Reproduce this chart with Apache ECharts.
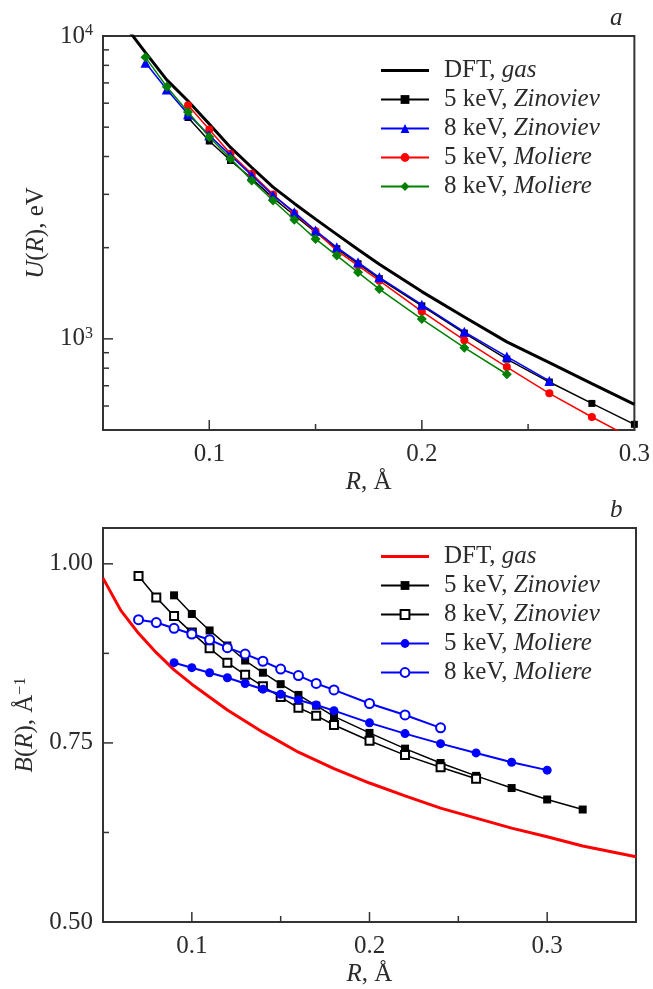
<!DOCTYPE html>
<html>
<head>
<meta charset="utf-8">
<script src="https://cdn.jsdelivr.net/npm/echarts@6/dist/echarts.min.js"></script>
<style>
html, body { margin: 0; padding: 0; background: #fff; }
#chart { width: 653px; height: 989px; background: #fff; }
</style>
</head>
<body>
<div id="chart"></div>
<script>
// ---- Panel a: interatomic potential U(R), eV ----
const R_U_DFT = [0.06, 0.07, 0.08, 0.09, 0.10, 0.11, 0.12, 0.13, 0.14, 0.15, 0.16, 0.17, 0.18, 0.20, 0.22, 0.24, 0.26, 0.28, 0.30];
const U_DFT   = [10900, 8810, 7160, 6100, 5120, 4285, 3680, 3170, 2800, 2485, 2213, 1972, 1762, 1432, 1180, 977, 834, 711, 608];

const R_U_Z5 = [0.09, 0.10, 0.11, 0.12, 0.13, 0.14, 0.15, 0.16, 0.17, 0.18, 0.20, 0.22, 0.24, 0.26, 0.28, 0.30];
const U_Z5   = [5380, 4500, 3880, 3380, 2920, 2560, 2250, 1985, 1770, 1580, 1285, 1045, 857, 720, 612, 522];

const R_U_Z8 = [0.07, 0.08, 0.09, 0.10, 0.11, 0.12, 0.13, 0.14, 0.15, 0.16, 0.17, 0.18, 0.20, 0.22, 0.24, 0.26];
const U_Z8   = [8160, 6660, 5520, 4700, 4036, 3465, 2975, 2620, 2278, 2006, 1789, 1596, 1296, 1055, 874, 726];

const R_U_M5 = [0.09, 0.10, 0.11, 0.12, 0.13, 0.14, 0.15, 0.16, 0.17, 0.18, 0.20, 0.22, 0.24, 0.26, 0.28, 0.30];
const U_M5   = [5910, 4910, 4088, 3510, 2999, 2600, 2265, 1956, 1745, 1556, 1232, 990, 807, 661, 552, 465];

const R_U_M8 = [0.07, 0.08, 0.09, 0.10, 0.11, 0.12, 0.13, 0.14, 0.15, 0.16, 0.17, 0.18, 0.20, 0.22, 0.24];
const U_M8   = [8500, 6800, 5610, 4642, 3936, 3336, 2864, 2473, 2138, 1883, 1658, 1460, 1162, 935, 764];

// ---- Panel b: screening parameter B(R), 1/Å ----
const R_B_DFT = [0.05, 0.06, 0.07, 0.08, 0.09, 0.10, 0.12, 0.14, 0.16, 0.18, 0.20, 0.22, 0.24, 0.26, 0.28, 0.30, 0.32, 0.35];
const B_DFT   = [0.980, 0.935, 0.903, 0.876, 0.852, 0.832, 0.796, 0.765, 0.737, 0.714, 0.694, 0.676, 0.659, 0.645, 0.631, 0.619, 0.606, 0.591];

const R_B_Z5 = [0.09, 0.10, 0.11, 0.12, 0.13, 0.14, 0.15, 0.16, 0.17, 0.18, 0.20, 0.22, 0.24, 0.26, 0.28, 0.30, 0.32];
const B_Z5   = [0.956, 0.930, 0.907, 0.886, 0.865, 0.848, 0.832, 0.817, 0.802, 0.787, 0.764, 0.742, 0.722, 0.704, 0.687, 0.671, 0.657];

const R_B_Z8 = [0.07, 0.08, 0.09, 0.10, 0.11, 0.12, 0.13, 0.14, 0.15, 0.16, 0.17, 0.18, 0.20, 0.22, 0.24, 0.26];
const B_Z8   = [0.983, 0.953, 0.927, 0.904, 0.882, 0.862, 0.845, 0.829, 0.814, 0.799, 0.788, 0.775, 0.753, 0.733, 0.716, 0.700];

const R_B_M5 = [0.09, 0.10, 0.11, 0.12, 0.13, 0.14, 0.15, 0.16, 0.17, 0.18, 0.20, 0.22, 0.24, 0.26, 0.28, 0.30];
const B_M5   = [0.862, 0.855, 0.848, 0.841, 0.833, 0.825, 0.818, 0.810, 0.803, 0.795, 0.778, 0.763, 0.749, 0.736, 0.723, 0.712];

const R_B_M8 = [0.07, 0.08, 0.09, 0.10, 0.11, 0.12, 0.13, 0.14, 0.15, 0.16, 0.17, 0.18, 0.20, 0.22, 0.24];
const B_M8   = [0.922, 0.918, 0.910, 0.902, 0.894, 0.883, 0.874, 0.864, 0.853, 0.844, 0.833, 0.824, 0.805, 0.789, 0.771];

// ---- Axis ticks and labels ----
const X_MAJOR = [0.1, 0.2, 0.3];
const X_MINOR = [0.15, 0.25];
const U_MAJOR = [1000, 10000];
const U_MINOR = [600, 700, 800, 900, 2000, 3000, 4000, 5000, 6000, 7000, 8000, 9000];
const B_MAJOR = [0.50, 0.75, 1.00];
const B_MINOR = [0.625, 0.875];

// Legend entries: series key -> [plain part, italic part]
const LEGEND_TEXT = {
  'U DFT': ['DFT, ', 'gas'],
  'U Z5': ['5 keV, ', 'Zinoviev'],
  'U Z8': ['8 keV, ', 'Zinoviev'],
  'U M5': ['5 keV, ', 'Moliere'],
  'U M8': ['8 keV, ', 'Moliere'],
  'B DFT': ['DFT, ', 'gas'],
  'B Z5': ['5 keV, ', 'Zinoviev'],
  'B Z8': ['8 keV, ', 'Zinoviev'],
  'B M5': ['5 keV, ', 'Moliere'],
  'B M8': ['8 keV, ', 'Moliere']
};

const SERIF = '"Liberation Serif", "Times New Roman", serif';
const INK = '#2b2b2b';
const AXIS = '#333';
const FS = 25;
const MAJOR_LEN = 10;
const MINOR_LEN = 6;

const pts = (xs, ys) => xs.map((x, i) => [x, ys[i]]);

const richText = {
  n: { fontFamily: SERIF, fontSize: FS, color: INK },
  i: { fontFamily: SERIF, fontSize: FS, color: INK, fontStyle: 'italic' },
  s: { fontFamily: SERIF, fontSize: 16, color: INK, verticalAlign: 'top', padding: [0, 0, 10, 0] }
};

// Inward tick marks, positioned through the axis scales
function tickSeries(xIdx, yIdx, dir, len, data) {
  return {
    type: 'custom', xAxisIndex: xIdx, yAxisIndex: yIdx, silent: true, z: 10,
    data: data,
    renderItem: (params, api) => {
      const cs = params.coordSys;
      const p = api.coord([api.value(0), api.value(1)]);
      let shape;
      if (dir === 'x') {
        const b = cs.y + cs.height;
        shape = { x1: p[0], y1: b, x2: p[0], y2: b - len };
      } else {
        shape = { x1: cs.x, y1: p[1], x2: cs.x + len, y2: p[1] };
      }
      return { type: 'line', shape: shape, style: { stroke: AXIS, lineWidth: 1.5 } };
    }
  };
}

function xAxisFor(grid, max) {
  return {
    type: 'value', gridIndex: grid, min: 0.05, max: max,
    name: '{i|R}{n|, Å}', nameLocation: 'middle', nameGap: 40,
    nameTextStyle: { fontFamily: SERIF, fontSize: FS, color: INK, rich: richText },
    axisLine: { show: true, lineStyle: { color: AXIS, width: 2 } },
    axisTick: { show: false },
    axisLabel: { customValues: X_MAJOR, margin: 12, fontFamily: SERIF, fontSize: FS, color: INK,
                 formatter: v => v.toFixed(1) },
    splitLine: { show: false }
  };
}

function legendFor(keys, top) {
  return {
    data: keys.map(k => k.indexOf('DFT') >= 0 ? { name: k, icon: 'path://M0,0H48V3H0Z' } : k),
    orient: 'vertical', left: 375, top: top, itemWidth: 48, itemHeight: 11, itemGap: 4,
    formatter: name => '{n|' + LEGEND_TEXT[name][0] + '}{i|' + LEGEND_TEXT[name][1] + '}',
    textStyle: { fontFamily: SERIF, fontSize: FS, color: INK, padding: [0, 0, 0, 10], rich: richText }
  };
}

function lineSeries(name, grid, xs, ys, color, symbol, size, width, z, extra) {
  return Object.assign({
    name: name, type: 'line', xAxisIndex: grid, yAxisIndex: grid, data: pts(xs, ys),
    symbol: symbol, symbolSize: size, color: color,
    lineStyle: { color: color, width: width }, clip: true, z: z
  }, extra || {});
}

function panelTitle(letter, top) {
  return { text: letter, left: 605, top: top, padding: 5,
           textStyle: { fontFamily: SERIF, fontSize: FS, fontStyle: 'italic', fontWeight: 'normal', color: INK } };
}

const chart = echarts.init(document.getElementById('chart'));
chart.setOption({
  animation: false,
  title: [panelTitle('a', 1), panelTitle('b', 493)],
  grid: [
    { left: 103, top: 36, width: 533, height: 394, show: true, borderColor: AXIS, borderWidth: 2, backgroundColor: 'transparent' },
    { left: 103, top: 528, width: 533, height: 394, show: true, borderColor: AXIS, borderWidth: 2, backgroundColor: 'transparent' }
  ],
  xAxis: [xAxisFor(0, 0.3), xAxisFor(1, 0.35)],
  yAxis: [
    {
      type: 'log', gridIndex: 0, min: 500, max: 10000,
      name: '{i|U}{n|(}{i|R}{n|), eV}', nameLocation: 'middle', nameGap: 54,
      nameTextStyle: { fontFamily: SERIF, fontSize: FS, color: INK, rich: richText },
      axisLine: { show: true, lineStyle: { color: AXIS, width: 2 } },
      axisTick: { show: false },
      axisLabel: { customValues: U_MAJOR, margin: 10, fontFamily: SERIF, fontSize: FS, color: INK,
                   formatter: v => '{n|10}{s|' + Math.round(Math.log10(v)) + '}', rich: richText },
      splitLine: { show: false }
    },
    {
      type: 'value', gridIndex: 1, min: 0.5, max: 1.05,
      name: '{i|B}{n|(}{i|R}{n|), Å}{s|−1}', nameLocation: 'middle', nameGap: 54,
      nameTextStyle: { fontFamily: SERIF, fontSize: FS, color: INK, rich: richText },
      axisLine: { show: true, lineStyle: { color: AXIS, width: 2 } },
      axisTick: { show: false },
      axisLabel: { customValues: B_MAJOR, margin: 10, fontFamily: SERIF, fontSize: FS, color: INK,
                   formatter: v => v.toFixed(2) },
      splitLine: { show: false }
    }
  ],
  legend: [
    legendFor(['U DFT', 'U Z5', 'U Z8', 'U M5', 'U M8'], 53),
    legendFor(['B DFT', 'B Z5', 'B Z8', 'B M5', 'B M8'], 539)
  ],
  series: [
    // panel a
    lineSeries('U DFT', 0, R_U_DFT, U_DFT, '#000', 'none', 0, 3, 3),
    lineSeries('U Z5', 0, R_U_Z5, U_Z5, '#000', 'rect', 7, 1.5, 4),
    lineSeries('U M5', 0, R_U_M5, U_M5, '#ff0000', 'circle', 8, 1.5, 5),
    lineSeries('U Z8', 0, R_U_Z8, U_Z8, '#0000ff', 'triangle', 10, 1.5, 6),
    lineSeries('U M8', 0, R_U_M8, U_M8, '#008000', 'diamond', 10, 1.5, 7),
    // panel b
    lineSeries('B DFT', 1, R_B_DFT, B_DFT, '#ff0000', 'none', 0, 3, 3),
    lineSeries('B Z5', 1, R_B_Z5, B_Z5, '#000', 'rect', 8, 1.5, 4),
    lineSeries('B Z8', 1, R_B_Z8, B_Z8, '#000', 'emptyRect', 8, 1.5, 5, { itemStyle: { borderWidth: 1.2 } }),
    lineSeries('B M5', 1, R_B_M5, B_M5, '#0000ff', 'circle', 9, 2, 6),
    lineSeries('B M8', 1, R_B_M8, B_M8, '#0000ff', 'emptyCircle', 9, 2, 7, { itemStyle: { borderWidth: 1.2 } }),
    // tick marks
    tickSeries(0, 0, 'x', MAJOR_LEN, X_MAJOR.map(v => [v, 1000])),
    tickSeries(0, 0, 'x', MINOR_LEN, X_MINOR.map(v => [v, 1000])),
    tickSeries(0, 0, 'y', MAJOR_LEN, U_MAJOR.map(v => [0.1, v])),
    tickSeries(0, 0, 'y', MINOR_LEN, U_MINOR.map(v => [0.1, v])),
    tickSeries(1, 1, 'x', MAJOR_LEN, X_MAJOR.map(v => [v, 0.75])),
    tickSeries(1, 1, 'x', MINOR_LEN, X_MINOR.map(v => [v, 0.75])),
    tickSeries(1, 1, 'y', MAJOR_LEN, B_MAJOR.map(v => [0.1, v])),
    tickSeries(1, 1, 'y', MINOR_LEN, B_MINOR.map(v => [0.1, v]))
  ]
});
</script>
</body>
</html>
